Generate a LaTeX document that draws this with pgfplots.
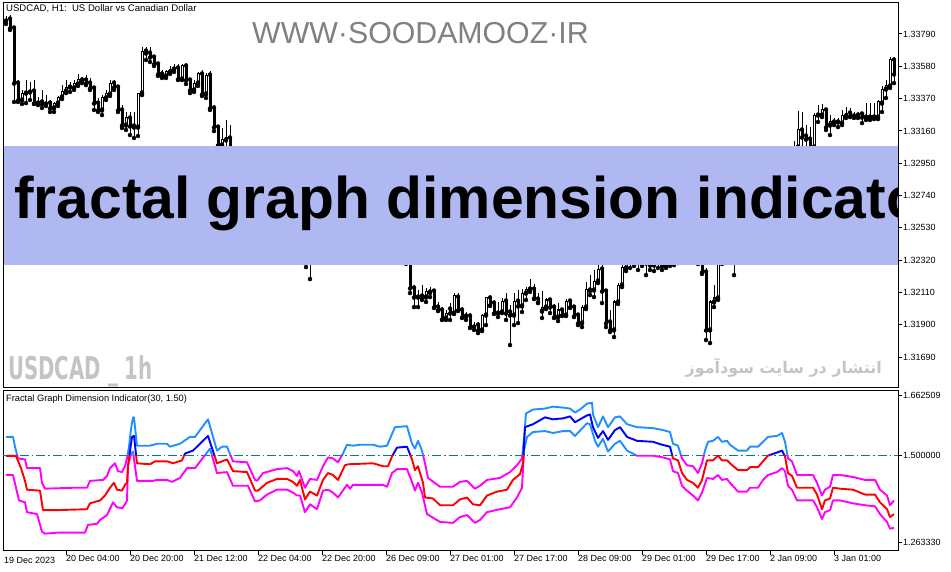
\documentclass[border=0pt]{standalone}
\usepackage{fontspec}
\setmainfont{Liberation Sans}
\newfontfamily\fa[Script=Arabic]{DejaVu Sans}
\newfontfamily\wmfont{DejaVu Sans}
\usepackage{pgfplots}
\pgfplotsset{compat=1.18}
\usepackage{pgfplotstable}
\TeXXeTstate=1

\definecolor{banner}{RGB}{176,184,242}
\definecolor{bandup}{RGB}{30,144,255}
\definecolor{midup}{RGB}{0,0,255}
\definecolor{banddn}{RGB}{255,0,255}
\definecolor{middn}{RGB}{255,0,0}
\definecolor{lvl}{RGB}{0,128,128}
\definecolor{wmgray}{RGB}{128,128,128}
\definecolor{wmlight}{RGB}{196,196,196}

% USDCAD H1 candles: bar index, open, high, low, close
\pgfplotstableread{
k o h l c
0 1.33874 1.33907 1.33855 1.33887
1 1.33887 1.33913 1.33816 1.33829
2 1.33829 1.33835 1.33348 1.33471
3 1.33471 1.33491 1.33348 1.33361
4 1.33361 1.33426 1.33335 1.33406
5 1.33406 1.33491 1.33341 1.33413
6 1.33413 1.33478 1.33361 1.33419
7 1.33419 1.33491 1.33335 1.33341
8 1.33341 1.33380 1.33328 1.33348
9 1.33348 1.33426 1.33309 1.33335
10 1.33335 1.33393 1.33322 1.33341
11 1.33341 1.33361 1.33283 1.33309
12 1.33309 1.33348 1.33283 1.33341
13 1.33341 1.33387 1.33322 1.33380
14 1.33380 1.33458 1.33367 1.33419
15 1.33419 1.33491 1.33406 1.33445
16 1.33445 1.33478 1.33413 1.33445
17 1.33439 1.33491 1.33426 1.33465
18 1.33465 1.33530 1.33452 1.33491
19 1.33491 1.33510 1.33471 1.33494
20 1.33491 1.33523 1.33458 1.33471
21 1.33471 1.33504 1.33426 1.33439
22 1.33439 1.33452 1.33296 1.33341
23 1.33341 1.33374 1.33283 1.33296
24 1.33296 1.33393 1.33263 1.33374
25 1.33374 1.33426 1.33361 1.33400
26 1.33400 1.33491 1.33387 1.33471
27 1.33471 1.33491 1.33426 1.33445
28 1.33445 1.33458 1.33283 1.33296
29 1.33296 1.33328 1.33179 1.33198
30 1.33198 1.33283 1.33166 1.33244
31 1.33244 1.33283 1.33133 1.33192
32 1.33192 1.33283 1.33114 1.33185
33 1.33185 1.33244 1.33127 1.33406
34 1.33406 1.33705 1.33393 1.33679
35 1.33679 1.33705 1.33621 1.33666
36 1.33666 1.33705 1.33608 1.33640
37 1.33640 1.33653 1.33582 1.33595
38 1.33595 1.33608 1.33517 1.33530
39 1.33530 1.33556 1.33504 1.33517
40 1.33517 1.33556 1.33504 1.33543
41 1.33543 1.33582 1.33530 1.33562
42 1.33562 1.33595 1.33543 1.33569
43 1.33569 1.33595 1.33491 1.33497
44 1.33497 1.33595 1.33491 1.33582
45 1.33582 1.33601 1.33465 1.33491
46 1.33491 1.33504 1.33406 1.33426
47 1.33426 1.33491 1.33413 1.33471
48 1.33471 1.33543 1.33452 1.33530
49 1.33530 1.33556 1.33387 1.33400
50 1.33400 1.33536 1.33374 1.33523
51 1.33523 1.33549 1.33296 1.33309
52 1.33309 1.33328 1.33159 1.33185
53 1.33185 1.33198 1.33055 1.33068
54 1.33068 1.33179 1.33049 1.33101
55 1.33101 1.33231 1.33036 1.33114
56 1.33114 1.33198 1.32971 1.33036
57 1.33036 1.33055 1.32952 1.32971
58 1.32971 1.32990 1.32919 1.32938
59 1.32938 1.33003 1.32919 1.32984
60 1.32984 1.33003 1.32886 1.32906
61 1.32906 1.32925 1.32854 1.32873
62 1.32873 1.32912 1.32854 1.32893
63 1.32893 1.32912 1.32821 1.32841
64 1.32841 1.32860 1.32789 1.32808
65 1.32808 1.32828 1.32756 1.32776
66 1.32776 1.32821 1.32756 1.32802
67 1.32802 1.32821 1.32724 1.32743
68 1.32743 1.32763 1.32691 1.32711
69 1.32711 1.32730 1.32659 1.32678
70 1.32678 1.32743 1.32659 1.32724
71 1.32724 1.32743 1.32626 1.32646
72 1.32646 1.32665 1.32594 1.32613
73 1.32613 1.32633 1.32548 1.32568
74 1.32568 1.32587 1.32496 1.32516
75 1.32516 1.32535 1.32275 1.32464
76 1.32464 1.32483 1.32197 1.32386
77 1.32386 1.32438 1.32366 1.32418
78 1.32418 1.32470 1.32399 1.32451
79 1.32451 1.32503 1.32431 1.32483
80 1.32483 1.32503 1.32444 1.32464
81 1.32464 1.32522 1.32444 1.32503
82 1.32503 1.32522 1.32457 1.32477
83 1.32477 1.32496 1.32431 1.32451
84 1.32451 1.32503 1.32431 1.32483
85 1.32483 1.32548 1.32464 1.32529
86 1.32529 1.32548 1.32483 1.32503
87 1.32503 1.32568 1.32483 1.32548
88 1.32548 1.32568 1.32496 1.32516
89 1.32516 1.32587 1.32496 1.32568
90 1.32568 1.32587 1.32509 1.32529
91 1.32529 1.32548 1.32464 1.32483
92 1.32483 1.32503 1.32431 1.32451
93 1.32451 1.32470 1.32399 1.32418
94 1.32418 1.32438 1.32366 1.32386
95 1.32386 1.32418 1.32366 1.32399
96 1.32399 1.32418 1.32334 1.32353
97 1.32353 1.32373 1.32314 1.32334
98 1.32334 1.32392 1.32314 1.32373
99 1.32373 1.32392 1.32301 1.32321
100 1.32321 1.32340 1.32295 1.32308
101 1.32308 1.32334 1.32106 1.32139
102 1.32139 1.32158 1.32015 1.32080
103 1.32080 1.32126 1.32015 1.32083
104 1.32087 1.32158 1.32061 1.32074
105 1.32080 1.32139 1.32048 1.32113
106 1.32113 1.32145 1.32080 1.32110
107 1.32119 1.32132 1.32009 1.32015
108 1.32015 1.32048 1.31989 1.31996
109 1.31996 1.32015 1.31931 1.31937
110 1.31944 1.31996 1.31931 1.31976
111 1.32002 1.32041 1.31931 1.31976
112 1.31976 1.32106 1.31970 1.32087
113 1.32080 1.32106 1.31989 1.31996
114 1.31996 1.32015 1.31944 1.31950
115 1.31957 1.31983 1.31931 1.31954
116 1.31957 1.31976 1.31879 1.31885
117 1.31885 1.31918 1.31866 1.31898
118 1.31898 1.31918 1.31846 1.31866
119 1.31866 1.31970 1.31859 1.31963
120 1.31963 1.32080 1.31898 1.32074
121 1.32074 1.32093 1.32022 1.32028
122 1.32041 1.32061 1.31970 1.31976
123 1.31976 1.32048 1.31950 1.31989
124 1.31983 1.32074 1.31976 1.32054
125 1.32054 1.32106 1.31931 1.31976
126 1.31983 1.32028 1.31768 1.31963
127 1.31963 1.32106 1.31898 1.32054
128 1.32054 1.32126 1.31911 1.32022
129 1.32022 1.32132 1.31983 1.32106
130 1.32106 1.32145 1.32061 1.32126
131 1.32132 1.32197 1.32113 1.32130
132 1.32132 1.32165 1.32067 1.32074
133 1.32067 1.32106 1.32041 1.32048
134 1.31989 1.32119 1.31944 1.32015
135 1.32015 1.32074 1.32002 1.32061
136 1.32061 1.32074 1.31976 1.32015
137 1.32015 1.32035 1.31944 1.31950
138 1.31950 1.32041 1.31924 1.31996
139 1.31996 1.32009 1.31957 1.31963
140 1.31963 1.32067 1.31957 1.32054
141 1.32054 1.32067 1.32009 1.32015
142 1.32015 1.32028 1.31950 1.31957
143 1.31963 1.31976 1.31898 1.31911
144 1.31911 1.32028 1.31885 1.32015
145 1.32015 1.32178 1.32002 1.32126
146 1.32126 1.32223 1.32093 1.32123
147 1.32126 1.32256 1.32080 1.32184
148 1.32184 1.32288 1.32171 1.32262
149 1.32262 1.32288 1.32041 1.32119
150 1.32119 1.32132 1.31885 1.31911
151 1.31918 1.31996 1.31853 1.31866
152 1.31866 1.32061 1.31820 1.32048
153 1.32048 1.32171 1.32035 1.32158
154 1.32158 1.32308 1.32145 1.32269
155 1.32269 1.32353 1.32249 1.32308
156 1.32308 1.32353 1.32269 1.32321
157 1.32321 1.32360 1.32282 1.32308
158 1.32308 1.32347 1.32256 1.32334
159 1.32334 1.32373 1.32282 1.32314
160 1.32314 1.32353 1.32223 1.32301
161 1.32301 1.32340 1.32256 1.32288
162 1.32288 1.32334 1.32249 1.32321
163 1.32321 1.32360 1.32269 1.32308
164 1.32308 1.32353 1.32256 1.32282
165 1.32282 1.32334 1.32269 1.32314
166 1.32314 1.32353 1.32282 1.32301
167 1.32301 1.32347 1.32288 1.32334
168 1.32334 1.32386 1.32301 1.32353
169 1.32353 1.32399 1.32308 1.32373
170 1.32373 1.32418 1.32321 1.32386
171 1.32386 1.32425 1.32334 1.32353
172 1.32353 1.32399 1.32308 1.32334
173 1.32334 1.32373 1.32295 1.32308
174 1.32308 1.32334 1.32230 1.32243
175 1.32243 1.32269 1.31801 1.31866
176 1.31866 1.32061 1.31781 1.32048
177 1.32048 1.32158 1.32015 1.32074
178 1.32074 1.32353 1.32061 1.32308
179 1.32308 1.32373 1.32295 1.32353
180 1.32353 1.32405 1.32334 1.32386
181 1.32386 1.32405 1.32314 1.32334
182 1.32334 1.32392 1.32223 1.32373
183 1.32373 1.32438 1.32353 1.32418
184 1.32418 1.32470 1.32399 1.32451
185 1.32451 1.32503 1.32431 1.32483
186 1.32483 1.32548 1.32464 1.32529
187 1.32529 1.32600 1.32509 1.32581
188 1.32581 1.32633 1.32561 1.32613
189 1.32613 1.32698 1.32594 1.32678
190 1.32678 1.32743 1.32659 1.32724
191 1.32724 1.32795 1.32704 1.32776
192 1.32776 1.32847 1.32756 1.32828
193 1.32828 1.32893 1.32808 1.32873
194 1.32873 1.32938 1.32854 1.32919
195 1.32919 1.32990 1.32899 1.32971
196 1.32971 1.33042 1.32952 1.33023
197 1.33023 1.33094 1.32984 1.33049
198 1.33055 1.33289 1.33036 1.33166
199 1.33166 1.33283 1.33049 1.33120
200 1.33127 1.33198 1.33036 1.33107
201 1.33107 1.33185 1.33023 1.33036
202 1.33055 1.33276 1.33036 1.33263
203 1.33263 1.33328 1.33218 1.33270
204 1.33263 1.33335 1.33250 1.33296
205 1.33296 1.33309 1.33166 1.33185
206 1.33198 1.33263 1.33133 1.33218
207 1.33218 1.33244 1.33198 1.33215
208 1.33218 1.33244 1.33185 1.33221
209 1.33211 1.33296 1.33198 1.33263
210 1.33257 1.33315 1.33244 1.33276
211 1.33276 1.33309 1.33250 1.33257
212 1.33257 1.33283 1.33244 1.33263
213 1.33263 1.33283 1.33244 1.33266
214 1.33270 1.33283 1.33211 1.33250
215 1.33250 1.33341 1.33231 1.33244
216 1.33250 1.33341 1.33231 1.33247
217 1.33250 1.33341 1.33237 1.33257
218 1.33250 1.33361 1.33237 1.33348
219 1.33341 1.33452 1.33283 1.33432
220 1.33432 1.33491 1.33374 1.33452
221 1.33452 1.33640 1.33439 1.33621
222 1.33621 1.33640 1.33471 1.33530
}\candles

% Fractal Graph Dimension Indicator(30, 1.50): upper band, middle, lower band
\pgfplotstableread{
k v
0 1.5507
1.75 1.5507
2.25 1.5241
3 1.4922
4.75 1.4895
5.25 1.4656
8.5 1.4656
9 1.4257
9.75 1.4097
17.25 1.4124
20.25 1.4124
21 1.4310
24.25 1.4336
25.25 1.4443
26 1.4656
27.25 1.4789
28 1.4576
29 1.4549
29.75 1.4709
30.25 1.4922
30.75 1.5241
31.25 1.5720
31.75 1.6040
32 1.6040
32.75 1.5268
36 1.5268
37.75 1.5321
40.25 1.5321
41 1.5241
43.5 1.5321
46 1.5507
47.25 1.5507
50.5 1.5986
52.75 1.5135
54 1.5241
55.25 1.5241
56.75 1.4842
60.25 1.4816
62.25 1.4336
62.75 1.4310
64.25 1.4523
67.75 1.4629
70.25 1.4656
71.75 1.4576
72.75 1.4443
73.25 1.4576
74.75 1.4124
76 1.4363
77.75 1.4336
79.25 1.4709
80.5 1.4949
81.75 1.4922
83 1.4816
84.25 1.5055
85.25 1.5294
86.75 1.5268
88.5 1.5294
91.75 1.5294
93.5 1.5241
95.25 1.5268
96.5 1.5587
97.25 1.5773
100.25 1.5800
101.5 1.5321
102.25 1.5188
103 1.5401
104 1.5135
104.75 1.4789
105.5 1.4390
108.5 1.4150
111.75 1.4150
113.5 1.4283
115.25 1.4310
117.25 1.4097
118.5 1.4177
120.25 1.4336
123.5 1.4390
126 1.4549
127.75 1.4736
129 1.4922
129.5 1.5454
130 1.6146
131.75 1.6253
134.75 1.6279
136.75 1.6332
139.25 1.6306
141 1.6279
142.25 1.6173
143.5 1.6253
145.25 1.6412
146.5 1.6439
146.75 1.6119
148 1.5773
149.25 1.6066
150.5 1.5773
152.25 1.6040
153.5 1.6066
155.25 1.5853
157.75 1.5773
161.75 1.5747
164.25 1.5694
166 1.5640
166.75 1.5321
168 1.5268
169 1.4922
170.25 1.4736
171.75 1.4709
173 1.4523
174 1.4789
174.75 1.5135
175.5 1.5374
176.75 1.5401
178 1.5507
179 1.5374
180.25 1.5401
181 1.5294
183 1.5135
185.25 1.5135
186 1.5241
188 1.5241
189.25 1.5374
190.5 1.5507
192.75 1.5534
194 1.5614
194.75 1.5374
195.5 1.4922
196.5 1.4842
197.75 1.4470
201.75 1.4470
202.75 1.4257
204 1.3911
204.75 1.4070
206 1.4150
206.75 1.4470
208.5 1.4470
211.75 1.4416
214.75 1.4336
217.25 1.4336
218.5 1.4070
220.25 1.3911
221 1.3645
222 1.3778
}\fgdU

\pgfplotstableread{
k v
0 1.4990
2.5 1.4990
3.75 1.4656
4.75 1.4310
5.25 1.4070
8.5 1.4044
9.25 1.3512
12.25 1.3512
20.25 1.3538
21 1.3698
23.5 1.3778
24.75 1.3911
26 1.4124
27 1.4257
27.75 1.4070
29 1.4044
29.75 1.4203
30.25 1.4257
30.5 1.4736
31.5 1.5507
32 1.5534
32.75 1.4789
36 1.4762
37.25 1.4842
40.25 1.4842
41.75 1.4789
44 1.4869
44.75 1.5055
46.75 1.5135
50.5 1.5534
52.75 1.4789
55.25 1.4895
56.75 1.4576
60.25 1.4549
62.25 1.4044
63 1.4044
65.25 1.4257
67.75 1.4363
70.25 1.4363
71.75 1.4283
72.75 1.4177
73.5 1.4336
74.75 1.3804
76 1.4017
77.75 1.3911
79.25 1.4336
80.5 1.4523
81.75 1.4470
83 1.4336
84.75 1.4736
85.5 1.4762
91.75 1.4789
94.25 1.4709
95.5 1.4709
96.5 1.4975
97.75 1.5215
100.25 1.5241
101.5 1.4895
102.25 1.4603
103 1.4709
104.25 1.4257
104.75 1.3857
106.75 1.3831
108.5 1.3645
111.75 1.3645
113.5 1.3804
115.25 1.3857
116.75 1.3671
118.5 1.3645
120.25 1.3911
122.75 1.4017
125.25 1.4070
126.75 1.4336
128.5 1.4496
129.25 1.4789
129.75 1.5773
131.75 1.5853
134.75 1.6040
136.75 1.5986
139.25 1.6013
141 1.6066
142.25 1.5907
145.25 1.6093
146 1.6119
146.75 1.5773
148 1.5481
149.25 1.5667
150.5 1.5427
152.25 1.5694
153.5 1.5773
155.25 1.5507
157.75 1.5401
161.75 1.5374
164 1.5294
166 1.5241
166.75 1.4922
168 1.4869
169 1.4523
170.25 1.4336
171.75 1.4257
173 1.4124
174 1.4336
175.25 1.4869
176.75 1.4869
178 1.4995
179 1.4869
180.25 1.4869
181 1.4789
183 1.4603
185.25 1.4603
186 1.4683
188 1.4683
189.25 1.4842
190.5 1.4998
192.75 1.5082
194 1.5135
194.75 1.4975
195.5 1.4523
196.5 1.4443
197.75 1.4124
201.75 1.4124
202.75 1.3937
204 1.3538
204.75 1.3778
206 1.3831
206.75 1.4124
208.5 1.4097
211.75 1.4070
214.75 1.3937
217.25 1.3937
218.5 1.3724
220.25 1.3538
221 1.3325
222 1.3405
}\fgdM

\pgfplotstableread{
k v
0 1.4470
1.75 1.4470
2.5 1.4124
3.25 1.3778
4.75 1.3724
5.25 1.3458
7.75 1.3405
9 1.2926
9.75 1.2873
13 1.2900
19.75 1.2900
20.5 1.3112
22.75 1.3139
23.5 1.3245
25.25 1.3378
26.75 1.3724
27.75 1.3591
29 1.3565
29.75 1.3671
30.25 1.3778
30.5 1.4709
31.25 1.5055
31.75 1.5108
32.75 1.4310
36.75 1.4310
37.75 1.4336
40.25 1.4336
41.5 1.4283
43.5 1.4390
45.25 1.4656
47.25 1.4656
51 1.5188
52.75 1.4523
55.25 1.4549
56.75 1.4177
60.5 1.4177
62.25 1.3751
63.5 1.3778
65.25 1.3937
67.75 1.4070
70.25 1.4070
71.75 1.3990
72.75 1.3911
73.5 1.3911
74.75 1.3458
76 1.3671
77.75 1.3538
79.25 1.4044
80.5 1.4070
81.75 1.3990
83 1.3857
85.25 1.4203
86 1.4097
86.75 1.4203
94.25 1.4203
95.25 1.4150
96.5 1.4523
97.75 1.4629
100.25 1.4629
101.5 1.4283
102.25 1.4044
103 1.4257
104 1.3990
105.25 1.3405
108.5 1.3192
111.75 1.3166
113.5 1.3325
115.25 1.3378
117.25 1.3166
118.5 1.3245
120.25 1.3458
123.5 1.3538
126 1.3591
127.75 1.3857
129 1.4124
129.5 1.5135
130.25 1.5507
131.75 1.5640
134.75 1.5667
136.75 1.5614
139.25 1.5667
141 1.5667
142.25 1.5534
145.25 1.5880
146 1.5853
147.25 1.5401
148 1.5241
149.25 1.5454
150.5 1.5108
152.25 1.5321
153.5 1.5401
155.25 1.5135
157.75 1.4995
161.75 1.4995
164.25 1.4949
166 1.4895
166.75 1.4576
168 1.4523
169 1.4177
170.25 1.4044
171.75 1.3911
173 1.3778
174 1.3990
175.25 1.4390
176.75 1.4363
178 1.4470
179 1.4336
180.25 1.4363
181 1.4257
183 1.4017
185.25 1.4017
186 1.4124
188 1.4124
189.25 1.4336
190.5 1.4470
192.75 1.4549
194 1.4656
194.75 1.4576
195.5 1.4177
196.5 1.4070
197.75 1.3778
201.75 1.3778
202.75 1.3591
204 1.3272
204.75 1.3458
206 1.3512
206.75 1.3778
208.5 1.3778
211.75 1.3698
214.75 1.3645
217.25 1.3618
218.5 1.3405
220.25 1.3192
221 1.3006
222 1.3032
}\fgdL

\pgfplotsset{
  every tick label/.append style={font=\fontsize{9}{10}\selectfont},
  pricepane/.style={scale only axis, width=895bp, height=385bp,
    at={(3bp,184bp)}, anchor=south west,
    xmin=-0.75, xmax=223, ymin=1.31489, ymax=1.339915},
  indpane/.style={scale only axis, width=895bp, height=160.5bp,
    at={(3bp,21bp)}, anchor=south west,
    xmin=-0.75, xmax=223, ymin=1.24002, ymax=1.67715},
  fgd/.style={line width=1.9bp, line join=round},
}

\begin{document}
\begin{tikzpicture}
\path[use as bounding box] (0,0) rectangle (951bp,572bp);

% price pane
\begin{axis}[pricepane,
  axis line style={line width=1bp},
  xtick=\empty,
  ytick={1.31690,1.31900,1.32110,1.32320,1.32530,1.32740,1.32950,1.33160,1.33370,1.33580,1.33790},
  yticklabels={1.31690,1.31900,1.32110,1.32320,1.32530,1.32740,1.32950,1.33160,1.33370,1.33580,1.33790},
  ytick pos=right, yticklabel pos=right,
  tick align=outside, major tick length=4bp,
  tick style={line width=1bp, black},
  yticklabel style={anchor=west, inner sep=0pt, xshift=1bp}]
% wicks
\addplot[only marks, mark=none, error bars/.cd, y dir=plus, y explicit,
  error mark=none, error bar style={line width=1bp, black}]
  table[x=k, y=l, y error plus expr=\thisrow{h}-\thisrow{l}] {\candles};
% bodies
\addplot[only marks, mark=none, error bars/.cd, y dir=plus, y explicit,
  error mark=none, error bar style={line width=3bp, black}]
  table[x=k, y expr={min(\thisrow{o},\thisrow{c})-0.0000325},
        y error plus expr={abs(\thisrow{c}-\thisrow{o})+0.000065}] {\candles};
% hollow inside of rising candles
\addplot[only marks, mark=none, error bars/.cd, y dir=plus, y explicit,
  error mark=none, error bar style={line width=1bp, white}]
  table[x=k, y expr={\thisrow{o}+0.0000325},
        y error plus expr={max(\thisrow{c}-\thisrow{o}-0.000065,0)}] {\candles};
\end{axis}

% indicator pane
\begin{axis}[indpane, name=ind,
  axis line style={line width=1bp},
  xtick={15,31,47,63,79,95,111,127,143,159,175,191,207},
  xticklabels={20 Dec 04:00,20 Dec 20:00,21 Dec 12:00,22 Dec 04:00,22 Dec 20:00,26 Dec 09:00,27 Dec 01:00,27 Dec 17:00,28 Dec 09:00,29 Dec 01:00,29 Dec 17:00,2 Jan 09:00,3 Jan 01:00},
  ytick={1.26333,1.5,1.662509},
  yticklabels={1.263330,1.500000,1.662509},
  xtick pos=left, xticklabel pos=left,
  ytick pos=right, yticklabel pos=right,
  tick align=outside, major tick length=4bp,
  tick style={line width=1bp, black},
  xticklabel style={anchor=north west, inner sep=0pt, xshift=0bp},
  yticklabel style={anchor=west, inner sep=0pt, xshift=1bp}]
\addplot[lvl, line width=1bp, dash pattern=on 9bp off 3bp on 1.5bp off 3bp]
  coordinates {(-0.75,1.5) (223,1.5)};
\coordinate (thr) at (axis cs:0,1.5);
\end{axis}

\begin{scope}
\clip (thr) ++(-600bp,0) rectangle ++(1500bp,300bp);
\begin{axis}[indpane, hide axis]
\addplot[fgd, bandup] table[x=k, y=v] {\fgdU};
\addplot[fgd, bandup] table[x=k, y=v] {\fgdL};
\addplot[fgd, midup] table[x=k, y=v] {\fgdM};
\end{axis}
\end{scope}
\begin{scope}
\clip (thr) ++(-600bp,0) rectangle ++(1500bp,-300bp);
\begin{axis}[indpane, hide axis]
\addplot[fgd, banddn] table[x=k, y=v] {\fgdU};
\addplot[fgd, banddn] table[x=k, y=v] {\fgdL};
\addplot[fgd, middn] table[x=k, y=v] {\fgdM};
\end{axis}
\end{scope}

% texts and overlays
\node[anchor=west, inner sep=0pt, font=\fontsize{9.6}{11}\selectfont] at (6bp,563bp)
  {USDCAD, H1:\ \ US Dollar vs Canadian Dollar};
\node[anchor=base west, inner sep=0pt, text=wmgray, font=\fontsize{30.4}{32}\selectfont] at (252bp,528bp)
  {WWW·SOODAMOOZ·IR};
\fill[banner] (3.5bp,307bp) rectangle (897.5bp,426bp);
\begin{scope}
\clip (3.5bp,307bp) rectangle (897.5bp,426bp);
\node[anchor=base west, inner sep=0pt, font=\fontsize{59}{62}\selectfont\bfseries] at (14bp,353bp)
  {fractal graph dimension indicator};
\end{scope}
\node[anchor=base west, inner sep=0pt, text=wmlight] at (8bp,192bp)
  {\scalebox{0.63}[1]{\wmfont\fontsize{31.5}{34}\selectfont\bfseries USDCAD \_ 1h}};
\node[anchor=base east, inner sep=0pt, text=wmlight, font=\fa\fontsize{16}{18}\selectfont\bfseries] at (882bp,198bp)
  {\beginR انتشار در سایت سودآموز\endR};
\node[anchor=west, inner sep=0pt, font=\fontsize{9.3}{11}\selectfont] at (6bp,173bp)
  {Fractal Graph Dimension Indicator(30, 1.50)};
\node[anchor=north west, inner sep=0pt, font=\fontsize{9}{10}\selectfont] at (4bp,15bp)
  {19 Dec 2023};
\end{tikzpicture}
\end{document}
